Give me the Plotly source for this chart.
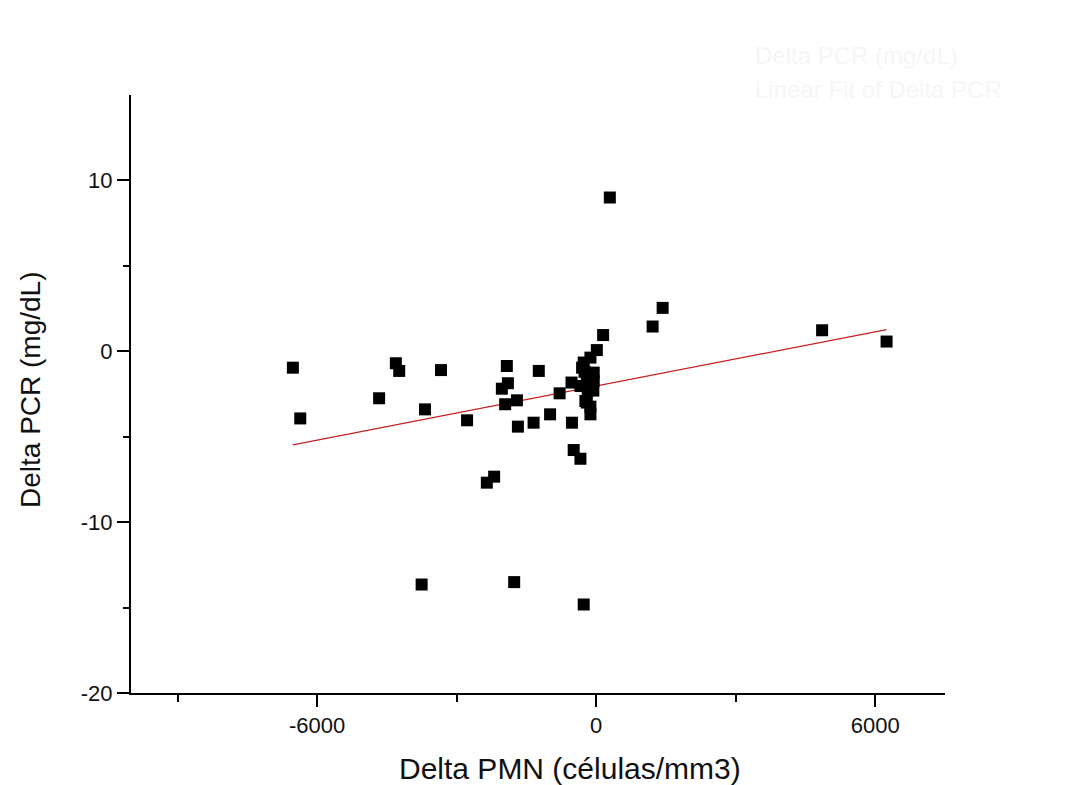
import plotly.graph_objects as go
import numpy as np

# Data
delta_pmn = [-6520, -6361, -4666, -4306, -4234, -3752, -3680, -3336, -2775, -2350,
             -2193, -2027, -1956, -1920, -1897, -1762, -1703, -1682, -1345, -1233,
             -990, -785, -530, -520, -483, -338, -267, -338, -231, -123,
             -123, -123, -52, -52, -302, -267, -123, 15, 150, 294,
             1214, 1430, 4858, 6244, -200, -80, -250, -180, -60, -200]
delta_pcr = [-0.96, -3.93, -2.75, -0.70, -1.15, -13.65, -3.40, -1.10, -4.04, -7.69,
             -7.34, -2.19, -3.10, -0.86, -1.87, -13.51, -2.87, -4.41, -4.18, -1.15,
             -3.69, -2.46, -1.83, -4.18, -5.78, -6.29, -14.82, -2.03, -2.91, -3.24,
             -3.69, -2.13, -1.74, -1.25, -0.96, -0.66, -0.37, 0.07, 0.95, 9.0,
             1.45, 2.54, 1.23, 0.57, -1.5, -1.6, -1.2, -2.3, -2.3, -3.0]

# Linear fit parameters
fit_slope = 0.000528
fit_intercept = -2.03

x_ticks = [-6000, 0, 6000]
x_tick_text = ["-6000", "0", "6000"]
y_ticks = [-20, -10, 0, 10]
y_tick_text = ["-20", "-10", "0", "10"]

fit_x = np.array([min(delta_pmn), max(delta_pmn)])
fit_y = fit_slope * fit_x + fit_intercept

fig = go.Figure()
fig.add_trace(go.Scatter(
    x=fit_x, y=fit_y, mode="lines",
    line=dict(color="#c81e1e", width=1.2),
    name="Linear Fit of Delta PCR", showlegend=False))
fig.add_trace(go.Scatter(
    x=delta_pmn, y=delta_pcr, mode="markers",
    marker=dict(symbol="square", size=12, color="black", line=dict(width=0)),
    name="Delta PCR (mg/dL)", showlegend=False))

font_family = "Liberation Sans, Arial, sans-serif"

# page body adds an 8px offset; plot area targets (131..945, 95..693) on screen
OFF = 8
PL, PR, PT, PB = 131 - OFF, 945 - OFF, 95 - OFF, 693 - OFF
W, H = 1075, 785
PW, PH = PR - PL, PB - PT


def px(xs):
    return (xs - OFF - PL) / PW


def py(ys):
    return (PB - (ys - OFF)) / PH


fig.update_layout(
    width=W, height=H,
    margin=dict(l=PL, r=W - PR, t=PT, b=H - PB),
    paper_bgcolor="white", plot_bgcolor="white",
    font=dict(family=font_family, color="#111111"),
    xaxis=dict(
        range=[-10000, 7500], showgrid=False, zeroline=False,
        showline=True, linecolor="black", linewidth=2,
        ticks="outside", ticklen=12, tickwidth=2, tickcolor="black",
        tickvals=x_ticks, ticktext=x_tick_text,
        tickfont=dict(size=22, family=font_family, color="#111111"),
        minor=dict(tickvals=[-9000, -3000, 3000], ticks="outside", ticklen=7,
                   tickwidth=1.5, tickcolor="black", showgrid=False),
    ),
    yaxis=dict(
        range=[-20, 15], showgrid=False, zeroline=False,
        showline=True, linecolor="black", linewidth=2,
        ticks="outside", ticklen=12, tickwidth=2, tickcolor="black",
        tickvals=y_ticks, ticktext=y_tick_text,
        tickfont=dict(size=22, family=font_family, color="#111111"),
        minor=dict(tickvals=[-15, -5, 5], ticks="outside", ticklen=6,
                   tickwidth=1.5, tickcolor="black", showgrid=False),
    ),
    annotations=[
        dict(text="Delta PMN (células/mm3)", xref="paper", yref="paper",
             x=px(570), y=py(768),
             xanchor="center", yanchor="middle", showarrow=False,
             font=dict(size=30, family=font_family, color="#111111")),
        dict(text="Delta PCR (mg/dL)", xref="paper", yref="paper",
             x=px(30), y=py(390),
             xanchor="center", yanchor="middle", textangle=-90, showarrow=False,
             font=dict(size=28, family=font_family, color="#111111")),
        # faint (almost erased) legend in the top right
        dict(text="Delta PCR (mg/dL)", xref="paper", yref="paper",
             x=px(753), y=py(55),
             xanchor="left", yanchor="middle", showarrow=False,
             font=dict(size=24, family=font_family, color="#f6f6f6")),
        dict(text="Linear Fit of Delta PCR", xref="paper", yref="paper",
             x=px(753), y=py(90),
             xanchor="left", yanchor="middle", showarrow=False,
             font=dict(size=24, family=font_family, color="#f6f6f6")),
    ],
)

fig.write_html("out.html")
